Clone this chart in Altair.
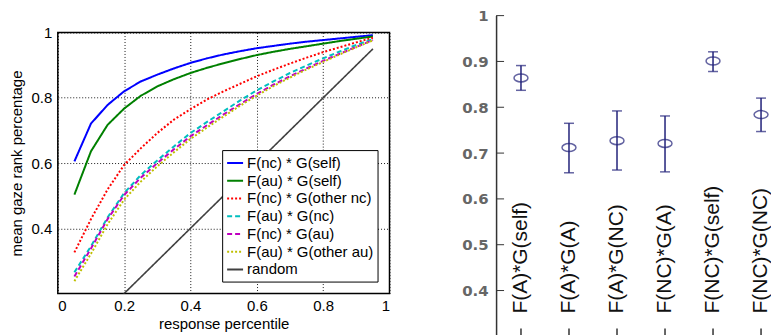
import altair as alt
import pandas as pd

# ---------------- left panel data ----------------
x_pct = [0.05, 0.10, 0.15, 0.20, 0.25, 0.30, 0.35, 0.40, 0.45, 0.50,
         0.55, 0.60, 0.65, 0.70, 0.75, 0.80, 0.85, 0.90, 0.95]
f_nc_g_self = [0.605, 0.721, 0.778, 0.820, 0.850, 0.871, 0.890, 0.907, 0.921, 0.933,
               0.943, 0.952, 0.959, 0.966, 0.972, 0.977, 0.982, 0.987, 0.992]
f_au_g_self = [0.503, 0.636, 0.717, 0.767, 0.806, 0.835, 0.857, 0.876, 0.892, 0.906,
               0.919, 0.931, 0.941, 0.950, 0.958, 0.966, 0.974, 0.981, 0.988]
f_nc_g_other_nc = [0.326, 0.428, 0.519, 0.594, 0.645, 0.692, 0.733, 0.765, 0.795, 0.820,
                   0.843, 0.866, 0.886, 0.905, 0.923, 0.940, 0.955, 0.970, 0.984]
f_au_g_nc = [0.265, 0.345, 0.433, 0.508, 0.563, 0.608, 0.651, 0.692, 0.726, 0.759,
             0.792, 0.823, 0.850, 0.876, 0.899, 0.921, 0.942, 0.962, 0.980]
f_nc_g_au = [0.252, 0.338, 0.428, 0.502, 0.555, 0.600, 0.642, 0.682, 0.716, 0.749,
             0.781, 0.812, 0.840, 0.866, 0.890, 0.913, 0.935, 0.956, 0.977]
f_au_g_other_au = [0.238, 0.322, 0.412, 0.488, 0.543, 0.590, 0.633, 0.674, 0.709, 0.743,
                   0.776, 0.807, 0.836, 0.862, 0.887, 0.910, 0.933, 0.955, 0.976]
random_line = [0.05, 0.10, 0.15, 0.20, 0.25, 0.30, 0.35, 0.40, 0.45, 0.50,
               0.55, 0.60, 0.65, 0.70, 0.75, 0.80, 0.85, 0.90, 0.95]

series_names = ["F(nc) * G(self)", "F(au) * G(self)", "F(nc) * G(other nc)",
                "F(au) * G(nc)", "F(nc) * G(au)", "F(au) * G(other au)", "random"]
series_values = [f_nc_g_self, f_au_g_self, f_nc_g_other_nc, f_au_g_nc,
                 f_nc_g_au, f_au_g_other_au, random_line]
series_colors = ["#0000ff", "#008000", "#ff0000", "#00bfbf", "#bf00bf", "#bfbf00", "#404040"]
series_dash = [[1, 0], [1, 0], [2, 2], [5, 3], [5, 3], [2, 2], [1, 0]]

x_ticks = [0, 0.2, 0.4, 0.6, 0.8, 1]
y_ticks_left = [0.4, 0.6, 0.8, 1]

# ---------------- right panel data ----------------
categories = ["F(A)*G(self)", "F(A)*G(A)", "F(A)*G(NC)",
              "F(NC)*G(A)", "F(NC)*G(self)", "F(NC)*G(NC)"]
means = [0.864, 0.712, 0.727, 0.721, 0.901, 0.784]
lows = [0.837, 0.657, 0.663, 0.659, 0.878, 0.747]
highs = [0.891, 0.765, 0.792, 0.781, 0.921, 0.820]
y_ticks_right = [0.4, 0.5, 0.6, 0.7, 0.8, 0.9, 1]

FONT = "Liberation Sans"
NAVY = "#22227a"
ELLIPSE = "M -1 0 A 1 0.57 0 1 0 1 0 A 1 0.57 0 1 0 -1 0 Z"

rows = []
for name, vals in zip(series_names, series_values):
    for xv, yv in zip(x_pct, vals):
        rows.append({"series": name, "x": xv, "y": yv})
df_lines = pd.DataFrame(rows)

leg = alt.Legend(
    title=None, orient="none", legendX=165, legendY=135,
    symbolType="stroke", symbolSize=256, symbolStrokeWidth=2,
    labelFont=FONT, labelFontSize=15, labelColor="black", labelOffset=3,
    rowPadding=0.8, padding=4, strokeColor="black", fillColor="white",
)

left = alt.Chart(df_lines).mark_line(clip=True).encode(
    x=alt.X("x:Q", scale=alt.Scale(domain=[0, 1], nice=False),
            axis=alt.Axis(values=x_ticks, format="~g", title="response percentile",
                          grid=True, gridDash=[1, 2], gridColor="black", gridOpacity=0.9,
                          ticks=False, domain=False, labelFont=FONT, labelFontSize=15,
                          labelColor="black", labelPadding=5, titleFont=FONT,
                          titleFontSize=15, titleFontWeight="normal", titleColor="black",
                          titlePadding=3)),
    y=alt.Y("y:Q", scale=alt.Scale(domain=[0.2, 1], nice=False, zero=False),
            axis=alt.Axis(values=y_ticks_left, format="~g", title="mean gaze rank percentage",
                          grid=True, gridDash=[1, 2], gridColor="black", gridOpacity=0.9,
                          ticks=False, domain=False, labelFont=FONT, labelFontSize=15,
                          labelColor="black", labelPadding=6, titleFont=FONT,
                          titleFontSize=15, titleFontWeight="normal", titleColor="black",
                          titlePadding=7)),
    color=alt.Color("series:N", scale=alt.Scale(domain=series_names, range=series_colors),
                    legend=leg),
    strokeDash=alt.StrokeDash("series:N", scale=alt.Scale(domain=series_names, range=series_dash),
                              legend=leg),
    strokeWidth=alt.condition(alt.datum.series == "random", alt.value(1.6), alt.value(2)),
).properties(
    width=333, height=262,
    view=alt.ViewBackground(stroke="black", strokeWidth=1.5),
)

spacer = alt.Chart(pd.DataFrame({"a": [0]})).mark_rule(opacity=0).encode(
    x=alt.value(0), x2=alt.value(1), y=alt.value(0)
).properties(width=333, height=1, view=alt.ViewBackground(stroke=None))

left_col = alt.vconcat(spacer, left, spacing=8)

# ---------------- right panel ----------------
df_err = pd.DataFrame({"cat": categories, "mean": means, "lo": lows, "hi": highs})
df_yt = pd.DataFrame({"t": y_ticks_right})

xs = alt.X("cat:N", sort=categories,
           scale=alt.Scale(type="point", domain=categories, range=[25, 266], padding=0),
           axis=None)
yscale = alt.Scale(domain=[0.3, 1], nice=False, zero=False)

base = alt.Chart(df_err)
bars = base.mark_rule(color=NAVY, strokeWidth=1.5).encode(
    x=xs,
    y=alt.Y("lo:Q", scale=yscale,
            axis=alt.Axis(values=y_ticks_right, format="~g", title=None, grid=False,
                          ticks=False, domain=True, domainColor="#333333", domainWidth=1.5,
                          labelFont="DejaVu Sans", labelFontSize=15, labelFontWeight="bold",
                          labelColor="#666666", labelPadding=8)),
    y2="hi:Q",
)
cap_lo = base.mark_tick(color=NAVY, size=10, thickness=1.5).encode(x=xs, y=alt.Y("lo:Q", scale=yscale))
cap_hi = base.mark_tick(color=NAVY, size=10, thickness=1.5).encode(x=xs, y=alt.Y("hi:Q", scale=yscale))
pts = base.mark_point(shape=ELLIPSE, filled=False, color=NAVY, size=196, strokeWidth=1.5).encode(
    x=xs, y=alt.Y("mean:Q", scale=yscale))
labels = base.mark_text(angle=270, align="left", baseline="middle", font=FONT,
                        fontSize=21, color="#111111").encode(
    x=xs, y=alt.YDatum(0.35, scale=yscale), text="cat:N")
ytick_marks = alt.Chart(df_yt).mark_rule(color="#333333", strokeWidth=1).encode(
    y=alt.Y("t:Q", scale=yscale), x=alt.value(0), x2=alt.value(8))
xtick_marks = base.mark_rule(color="#333333", strokeWidth=1.5).encode(
    x=xs, y=alt.value(322), y2=alt.value(314))

right = alt.layer(bars, cap_lo, cap_hi, pts, labels, ytick_marks, xtick_marks).properties(
    width=270, height=322,
    view=alt.ViewBackground(stroke=None),
)

chart = alt.hconcat(left_col, right, spacing=71).properties(
    padding={"left": 0, "top": 0, "right": 0, "bottom": 0},
    background="white",
)

chart.save("out.html", embed_options={"renderer": "svg", "actions": False})
